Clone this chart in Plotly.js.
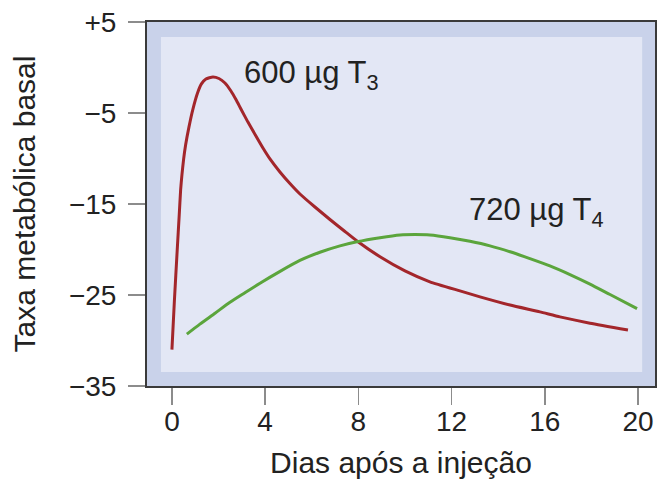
<!DOCTYPE html>
<html>
<head>
<meta charset="utf-8">
<script src="https://cdn.plot.ly/plotly-3.0.1.min.js"></script>
<style>html,body{margin:0;padding:0;background:#fff;}#chart{width:658px;height:483px;}</style>
</head>
<body>
<div id="chart"></div>
<script>
// Days after injection (x) and basal metabolic rate (y)
const t3Days = [0, 0.107, 0.227, 0.313, 0.373, 0.429, 0.498, 0.588, 0.730, 0.893, 1.099, 1.266, 1.459, 1.760, 2.017, 2.275, 2.532, 2.747, 2.961, 3.262, 3.605, 3.906, 4.206, 4.635, 5.064, 5.494, 6.137, 6.781, 7.425, 7.940, 8.93, 10.0, 11.07, 12.36, 13.22, 14.51, 15.79, 16.65, 17.94, 19.57];
const t3Rate = [-31.0, -25.55, -20.05, -16.2, -13.45, -11.8, -10.15, -8.5, -6.55, -4.65, -2.8, -1.8, -1.26, -1.04, -1.21, -1.7, -2.58, -3.52, -4.56, -6.0, -7.53, -8.85, -10.05, -11.48, -12.75, -13.9, -15.33, -16.7, -18.02, -19.07, -20.8, -22.35, -23.55, -24.55, -25.2, -26.1, -26.85, -27.4, -28.1, -28.85];
const t4Days = [0.64, 1.20, 1.85, 2.49, 3.13, 3.78, 4.64, 5.49, 6.35, 7.21, 7.94, 8.93, 9.79, 10.43, 11.07, 11.93, 12.79, 13.65, 14.51, 15.36, 16.22, 17.08, 17.94, 18.80, 19.96];
const t4Rate = [-29.3, -28.2, -27.0, -25.8, -24.75, -23.7, -22.4, -21.2, -20.3, -19.6, -19.15, -18.7, -18.4, -18.35, -18.4, -18.7, -19.1, -19.6, -20.25, -21.0, -21.8, -22.75, -23.8, -24.95, -26.5];
const xTickVals = [0, 4, 8, 12, 16, 20];
const xTickText = ['0', '4', '8', '12', '16', '20'];
const yTickVals = [5, -5, -15, -25, -35];
const yTickText = ['+5', '\u22125', '\u221215', '\u221225', '\u221235'];
const seriesNames = ['600 µg T<sub>3</sub>', '720 µg T<sub>4</sub>'];
const xTitle = 'Dias após a injeção';
const yTitle = 'Taxa metabólica basal';

const FONT = 'Liberation Sans, Arial, Helvetica, sans-serif';

const traces = [
  {x: t3Days, y: t3Rate, mode: 'lines', name: seriesNames[0],
   line: {color: '#a3262b', width: 3, shape: 'spline', smoothing: 0.5}},
  {x: t4Days, y: t4Rate, mode: 'lines', name: seriesNames[1],
   line: {color: '#5ba53c', width: 3, shape: 'spline', smoothing: 0.6}}
];

const layout = {
  width: 658, height: 483,
  margin: {l: 147, r: 3, t: 22, b: 97},
  paper_bgcolor: '#ffffff',
  plot_bgcolor: '#c9d2ea',
  showlegend: false,
  font: {family: FONT, color: '#222'},
  xaxis: {
    range: [-1.07, 20.73], tickvals: xTickVals, ticktext: xTickText,
    showgrid: false, zeroline: false,
    showline: true, linecolor: '#3a3a3a', linewidth: 2, mirror: true,
    ticks: 'outside', ticklen: 17, tickwidth: 1.5, tickcolor: '#8c8c8c',
    ticklabelstandoff: -8,
    tickfont: {size: 28, family: FONT, color: '#222'},
    title: {text: xTitle, font: {size: 30, family: FONT, color: '#222'}, standoff: 16}
  },
  yaxis: {
    range: [-35, 5], tickvals: yTickVals, ticktext: yTickText,
    showgrid: false, zeroline: false,
    showline: true, linecolor: '#3a3a3a', linewidth: 2, mirror: true,
    ticks: 'outside', ticklen: 17, tickwidth: 1.5, tickcolor: '#8c8c8c',
    ticklabelstandoff: 6,
    tickfont: {size: 28, family: FONT, color: '#222'},
    title: {text: yTitle, font: {size: 30, family: FONT, color: '#222'}, standoff: 24}
  },
  shapes: [
    {type: 'rect', layer: 'below', xref: 'x', yref: 'y',
     x0: -0.47, x1: 20.18, y0: -33.46, y1: 3.35,
     fillcolor: '#e3e7f5', line: {width: 0}}
  ],
  annotations: [
    {x: 3.0, y: -0.82, xref: 'x', yref: 'y', text: seriesNames[0], showarrow: false,
     xanchor: 'left', yanchor: 'middle', font: {size: 31, family: FONT, color: '#222'}},
    {x: 12.65, y: -15.93, xref: 'x', yref: 'y', text: seriesNames[1], showarrow: false,
     xanchor: 'left', yanchor: 'middle', font: {size: 31, family: FONT, color: '#222'}}
  ]
};

Plotly.newPlot('chart', traces, layout, {displayModeBar: false, staticPlot: true});
</script>
</body>
</html>
